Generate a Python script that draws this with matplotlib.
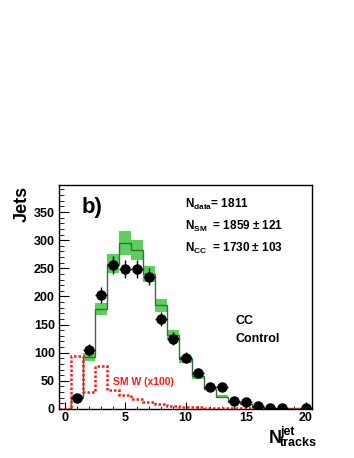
import numpy as np
import matplotlib
matplotlib.use("Agg")
import matplotlib.pyplot as plt
from matplotlib.ticker import MultipleLocator

plt.rcParams['font.family'] = ['Liberation Sans', 'DejaVu Sans']
plt.rcParams['font.weight'] = 'bold'
plt.rcParams['mathtext.fontset'] = 'custom'
plt.rcParams['mathtext.rm'] = 'Liberation Sans:bold'
plt.rcParams['mathtext.bf'] = 'Liberation Sans:bold'
plt.rcParams['mathtext.it'] = 'Liberation Sans:bold'

# Bins of N_tracks (0..20), one unit wide
bins = list(range(0, 21))

# Data (points), bins 1..18 and 20
data_x = [1, 2, 3, 4, 5, 6, 7, 8, 9, 10, 11, 12, 13, 14, 15, 16, 17, 18, 20]
data_y = [20, 105, 203, 255, 248, 248, 235, 160, 125, 91, 64, 39, 39, 15, 12, 6, 2, 2, 1]
data_err = [4.5, 10, 14, 16, 16, 16, 15, 13, 11, 9.5, 8, 6, 6, 4, 3.5, 2.5, 1.4, 1.4, 9]

# SM prediction (histogram) with uncertainty band
sm_y = [0, 22, 92, 178, 258, 295, 283, 240, 184, 132, 88, 58, 36, 22, 12, 8, 4, 2, 1.5, 1, 0.5]
sm_err = [0, 3, 7, 11, 17, 21, 18, 14, 12, 8, 6, 4, 3, 2, 1, 0.8, 0.5, 0.3, 0.2, 0.1, 0.1]

# SM W contribution scaled x100
w_y = [0, 95, 31, 76, 34, 25, 18, 12, 9.5, 6, 4, 3, 2, 1.5, 1, 1, 0.5, 0.5, 0.5, 0.5, 0.5]

edges = np.arange(-0.5, 21.0, 1.0)

fig = plt.figure(figsize=(3.54, 4.58), dpi=100)
ax = fig.add_axes([0.1667, 0.1070, 0.7147, 0.4891])

# green band
sm = np.array(sm_y)
se = np.array(sm_err)
ax.bar(bins, 2 * se, bottom=sm - se, width=1.0, color='#5ccf5c', edgecolor='none', zorder=1)
ax.stairs(sm_y, edges, color='#3d6b3d', linewidth=1.0, zorder=2)

# red dotted W
ax.stairs(w_y, edges, color='#ff1a1a', linewidth=1.8, linestyle=(0, (1, 0.8)), zorder=3)

# data points
ax.errorbar(data_x, data_y, yerr=data_err, xerr=0.5, fmt='o', color='black',
            markersize=6.5, elinewidth=1.0, capsize=0, zorder=4)

ax.set_xlim(-0.5, 20.5)
ax.set_ylim(0, 398)
ax.xaxis.set_major_locator(MultipleLocator(5))
ax.xaxis.set_minor_locator(MultipleLocator(1))
ax.yaxis.set_major_locator(MultipleLocator(50))
ax.yaxis.set_minor_locator(MultipleLocator(10))
ax.tick_params(axis='both', which='both', direction='in', top=False, right=False)
ax.tick_params(axis='y', which='major', length=7, labelsize=9, pad=3)
ax.tick_params(axis='y', which='minor', length=3.5)
ax.tick_params(axis='x', which='major', length=5, labelsize=9, pad=2)
ax.tick_params(axis='x', which='minor', length=2.5)
for lab in ax.get_xticklabels() + ax.get_yticklabels():
    lab.set_fontweight('bold')
for sp in ax.spines.values():
    sp.set_linewidth(1.0)

# labels
fig.text(22 / 354, 1 - 186 / 458, 'Jets', rotation=90, fontsize=13, fontweight='bold',
         ha='center', va='top')
fig.text(269 / 354, 1 - 443 / 458, 'N', fontsize=13, fontweight='bold', ha='left', va='baseline')
fig.text(280 / 354, 1 - 435 / 458, 'jet', fontsize=9, fontweight='bold', ha='left', va='baseline')
fig.text(280 / 354, 1 - 446 / 458, 'tracks', fontsize=9, fontweight='bold', ha='left', va='baseline')

fig.text(82 / 354, 1 - 213 / 458, 'b)', fontsize=16, fontweight='bold', ha='left', va='baseline')

fig.text(185 / 354, 1 - 208 / 458, r'N$_{\mathrm{data}}$= 1811', fontsize=8.5, fontweight='bold',
         ha='left', va='baseline')
fig.text(185 / 354, 1 - 230 / 458, r'N$_{\mathrm{SM}}$  = 1859 ± 121', fontsize=8.5,
         fontweight='bold', ha='left', va='baseline')
fig.text(185 / 354, 1 - 252 / 458, r'N$_{\mathrm{CC}}$  = 1730 ± 103', fontsize=8.5,
         fontweight='bold', ha='left', va='baseline')

fig.text(235 / 354, 1 - 324 / 458, 'CC', fontsize=9, fontweight='bold', ha='left', va='baseline')
fig.text(235 / 354, 1 - 342 / 458, 'Control', fontsize=9, fontweight='bold', ha='left', va='baseline')

fig.text(113 / 354, 1 - 385 / 458, 'SM W (x100)', fontsize=7.5, fontweight='bold', color='#ff1a1a',
         ha='left', va='baseline')

fig.savefig('out.png', dpi=100)
